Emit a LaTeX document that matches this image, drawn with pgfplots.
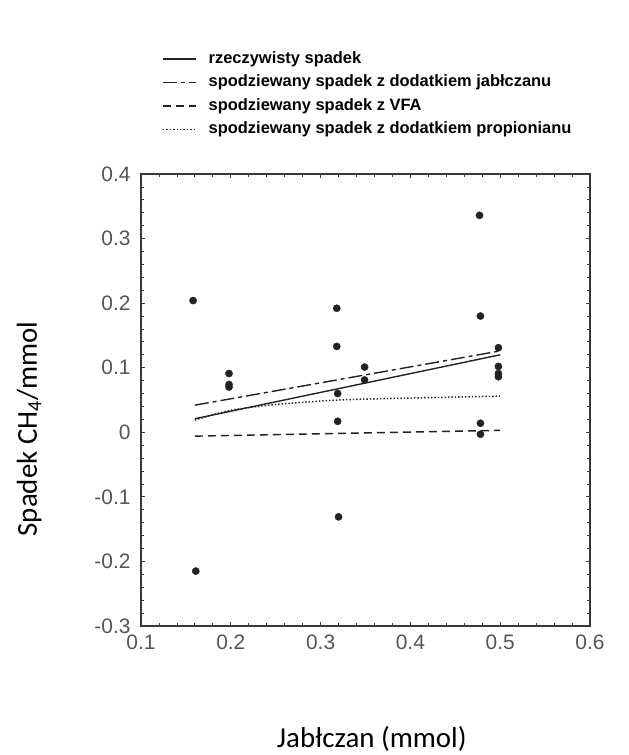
\documentclass[border=0pt]{standalone}
\usepackage{fontspec}
\setmainfont{Liberation Sans}
\newfontfamily\calibri{Carlito}
\usepackage{pgfplots}
\pgfplotsset{compat=1.18}
\definecolor{axgray}{HTML}{3A3A3A}
\definecolor{tickgray}{HTML}{555555}
\definecolor{linecol}{HTML}{222222}
\begin{document}
\begin{tikzpicture}
\useasboundingbox (0,0) rectangle (629bp,755bp);
\begin{axis}[
  at={(141bp,129bp)}, anchor=south west,
  scale only axis, width=449bp, height=452bp,
  xmin=0.1, xmax=0.6, ymin=-0.3, ymax=0.4,
  xtick={0.1,0.2,0.3,0.4,0.5,0.6},
  ytick={-0.3,-0.2,-0.1,0,0.1,0.2,0.3,0.4},
  minor tick num=4,
  tick align=inside,
  major tick length=4bp, minor tick length=3bp,
  axis line style={axgray, line width=1.1bp},
  tick style={axgray, line width=0.8bp},
  /pgf/number format/assume math mode=true,
  /pgf/number format/fixed, /pgf/number format/precision=1,
  tick label style={font=\fontsize{21}{21}\selectfont, text=tickgray},
  xticklabel style={yshift=-5bp},
  yticklabel style={xshift=-7bp},
  xlabel={Jabłczan (mmol)},
  ylabel={Spadek CH\textsubscript{4}/mmol},
  label style={font=\calibri\fontsize{29}{29}\selectfont, text=black},
  xlabel style={at={(axis description cs:0.514,-0.25)}, anchor=center},
  ylabel style={at={(axis description cs:-0.249,0.436)}, anchor=center},
  legend cell align=left,
  legend image code/.code={\draw[#1] (0bp,0bp) -- (33bp,0bp);},
  legend style={at={(axis description cs:0.0468,1.2765)}, anchor=north west,
    draw=none, fill=none, inner sep=0pt, rotate=2,
    font=\bfseries\fontsize{16.5}{16.5}\selectfont,
    nodes={text height=12bp, text depth=3.5bp, inner sep=2bp, transform shape},
    row sep=4bp,
    /tikz/every odd column/.style={column sep=10bp}},
]
\addplot[only marks, mark=*, mark size=3.6bp, color=linecol, forget plot] coordinates {
(0.158,0.204) (0.161,-0.215)
(0.198,0.091) (0.198,0.074) (0.198,0.070)
(0.318,0.192) (0.318,0.133) (0.319,0.060) (0.319,0.017) (0.320,-0.131)
(0.349,0.101) (0.349,0.081)
(0.477,0.336) (0.478,0.180) (0.478,0.014) (0.478,-0.003)
(0.498,0.131) (0.498,0.102) (0.498,0.091) (0.498,0.086)
};
\addplot[linecol, line width=1.4bp] coordinates {(0.16,0.021) (0.5,0.120)};
\addlegendentry{rzeczywisty spadek}
\addplot[linecol, line width=1.4bp, dash pattern=on 14bp off 4bp on 4bp off 4bp] coordinates {(0.16,0.042) (0.5,0.126)};
\addlegendentry{spodziewany spadek z dodatkiem jabłczanu}
\addplot[linecol, line width=1.4bp, dash pattern=on 8bp off 5bp] coordinates {(0.16,-0.006) (0.5,0.003)};
\addlegendentry{spodziewany spadek z VFA}
\addplot[linecol, line width=1.5bp, dash pattern=on 1.4bp off 2bp, smooth] coordinates {(0.16,0.019) (0.2,0.034) (0.25,0.043) (0.32,0.050) (0.4,0.053) (0.5,0.056)};
\addlegendentry{spodziewany spadek z dodatkiem propionianu}
\end{axis}
\end{tikzpicture}
\end{document}
